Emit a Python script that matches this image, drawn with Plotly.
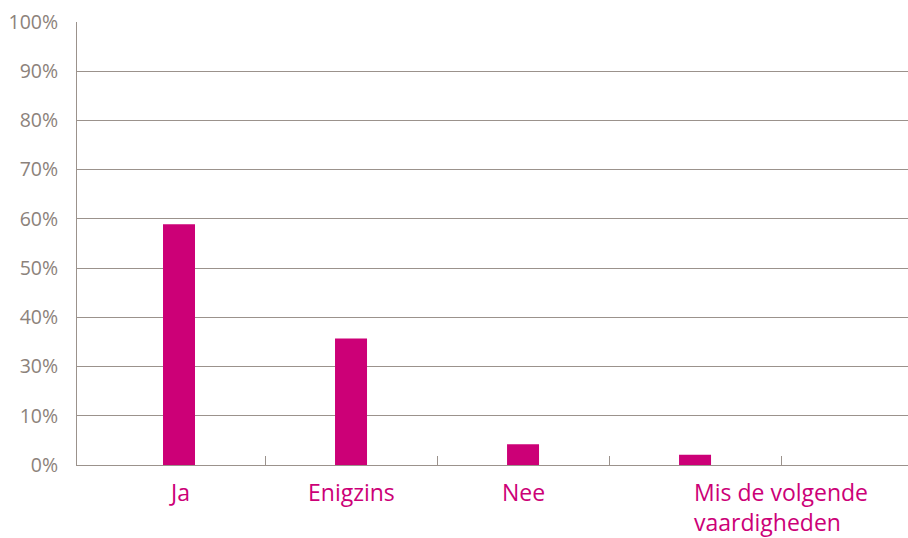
import plotly.graph_objects as go

categories = ["Ja", "Enigzins", "Nee", "Mis de volgende<br>vaardigheden"]
values_pct = [58.9, 35.7, 4.2, 2.1]
tick_labels = ["0%", "10%", "30%", "40%", "50%", "60%", "70%", "80%", "90%", "100%"]
# the value each labelled gridline stands for (the original axis skips 20%)
tick_pct = [0, 10, 30, 40, 50, 60, 70, 80, 90, 100]

BAR = "#cc0077"
GRID = "#9b928c"
TXT = "#8c827b"


def to_axis(v):
    """Map a percentage onto the chart's evenly spaced gridline positions."""
    for i in range(len(tick_pct) - 1):
        a, b = tick_pct[i], tick_pct[i + 1]
        if v <= b:
            return (i + (v - a) / (b - a)) * 10
    return (len(tick_pct) - 1) * 10


xs = list(range(len(categories)))
ys = [to_axis(v) for v in values_pct]

fig = go.Figure()
fig.add_trace(go.Bar(
    x=xs, y=ys, width=0.186, marker=dict(color=BAR, line=dict(width=0)),
    customdata=values_pct, hovertemplate="%{customdata}%<extra></extra>",
))

for i, c in enumerate(categories):
    last = i == len(categories) - 1
    fig.add_annotation(
        x=i + (0.5 if last else 0), y=0, xref="x", yref="paper",
        yanchor="top", yshift=-9, xanchor="center",
        align="left", text=c, showarrow=False,
        font=dict(family="Open Sans", size=23, color=BAR),
    )

fig.update_layout(
    width=908, height=538,
    margin=dict(l=77, r=0, t=22, b=73),
    paper_bgcolor="white", plot_bgcolor="white",
    showlegend=False,
    xaxis=dict(
        range=[-0.593, 4.238], showgrid=False, zeroline=False,
        showline=True, linecolor=GRID, linewidth=1,
        tickvals=[0.5, 1.5, 2.5, 3.5], ticks="inside", ticklen=9,
        tickcolor=GRID, tickwidth=1, showticklabels=False,
    ),
    yaxis=dict(
        range=[0, 90], tickvals=[i * 10 for i in range(len(tick_labels))],
        ticktext=tick_labels, showgrid=True, gridcolor=GRID, gridwidth=1,
        zeroline=False, showline=True, linecolor=GRID, linewidth=1,
        ticks="", ticklabelstandoff=14,
        tickfont=dict(family="Open Sans", size=19.5, color=TXT),
    ),
)

fig.write_html("out.html")
